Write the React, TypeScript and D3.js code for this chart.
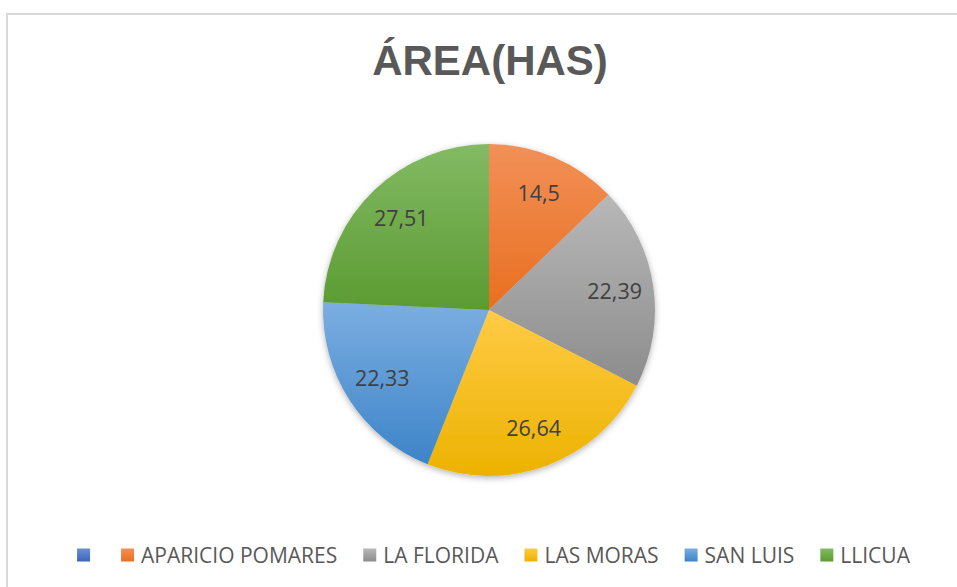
import React, { useEffect, useRef } from "react";
import * as d3 from "d3";

// categories and values (first category is blank)
const categories = ["", "APARICIO POMARES", "LA FLORIDA", "LAS MORAS", "SAN LUIS", "LLICUA"];
const values = [0, 14.5, 22.39, 26.64, 22.33, 27.51];
const valueLabels = ["", "14,5", "22,39", "26,64", "22,33", "27,51"];
const topColors = ["#6A8FD6", "#F29058", "#B8B8B8", "#FFCB45", "#7BAEE1", "#83BA64"];
const bottomColors = ["#3A66B8", "#E96F1F", "#8C8C8C", "#ECB200", "#3D84C8", "#5B9B32"];

const W = 957;
const H = 587;

function PieChart() {
  const ref = useRef<SVGSVGElement>(null);

  useEffect(() => {
    const svg = d3.select(ref.current);
    svg.selectAll("*").remove();

    const defs = svg.append("defs");
    categories.forEach((c, i) => {
      const g = defs.append("linearGradient")
        .attr("id", "grad" + i)
        .attr("x1", 0).attr("y1", 0).attr("x2", 0).attr("y2", 1);
      g.append("stop").attr("offset", "0%").attr("stop-color", topColors[i]);
      g.append("stop").attr("offset", "100%").attr("stop-color", bottomColors[i]);
    });
    defs.append("filter")
      .attr("id", "shadow")
      .attr("x", "-20%").attr("y", "-20%").attr("width", "140%").attr("height", "140%")
      .append("feDropShadow")
      .attr("dx", 0).attr("dy", 2).attr("stdDeviation", 3)
      .attr("flood-color", "#000").attr("flood-opacity", 0.3);

    // chart border
    svg.append("rect")
      .attr("x", 7).attr("y", 14)
      .attr("width", W).attr("height", H)
      .attr("fill", "white")
      .attr("stroke", "#D9D9D9").attr("stroke-width", 2);

    // title
    svg.append("text")
      .attr("x", 490).attr("y", 75)
      .attr("text-anchor", "middle")
      .style("font-family", "'Liberation Sans', Arial, sans-serif")
      .style("font-weight", "bold")
      .style("font-size", "42px")
      .style("fill", "#595959")
      .text("ÁREA(HAS)");

    const cx = 489, cy = 310, R = 166;
    const pie = d3.pie<number>().sort(null).value(d => d);
    const arcs = pie(values);
    const arc = d3.arc<d3.PieArcDatum<number>>().innerRadius(0).outerRadius(R);
    const labelArc = d3.arc<d3.PieArcDatum<number>>().innerRadius(127).outerRadius(127);

    const chart = svg.append("g").attr("transform", `translate(${cx},${cy})`);
    chart.append("g").attr("filter", "url(#shadow)")
      .selectAll("path")
      .data(arcs.filter(d => d.value > 0))
      .enter()
      .append("path")
      .attr("d", arc)
      .attr("fill", d => `url(#grad${d.index})`);

    chart.selectAll("text.lbl")
      .data(arcs.filter(d => d.value > 0))
      .enter()
      .append("text")
      .attr("class", "lbl")
      .attr("transform", d => `translate(${labelArc.centroid(d)})`)
      .attr("text-anchor", "middle")
      .attr("dy", "0.35em")
      .style("font-family", "'Open Sans', sans-serif")
      .style("font-size", "21.5px")
      .style("fill", "#404040")
      .text(d => valueLabels[d.index]);

    // legend
    const sq = 13, textGap = 7, itemGap = 26;
    const legend = svg.append("g");
    const items = legend.selectAll("g")
      .data(categories)
      .enter()
      .append("g");
    items.append("rect")
      .attr("width", sq).attr("height", sq)
      .attr("y", -sq / 2)
      .attr("fill", (d, i) => `url(#grad${i})`);
    items.append("text")
      .attr("x", sq + textGap)
      .attr("dy", "0.36em")
      .style("font-family", "'Open Sans', sans-serif")
      .style("font-size", "21px")
      .style("fill", "#595959")
      .text(d => d);

    let x = 0;
    items.each(function (d) {
      const t = d3.select(this).select("text").node() as SVGTextElement;
      const tw = d ? t.getComputedTextLength() : 0;
      d3.select(this).attr("transform", `translate(${x},0)`);
      x += sq + (d ? textGap + tw : 5) + itemGap;
    });
    const total = x - itemGap;
    legend.attr("transform", `translate(${493.5 - total / 2},555)`);
  }, []);

  return (
    <svg ref={ref} width={W} height={H}
      style={{ display: "block", position: "fixed", left: 0, top: 0 }}></svg>
  );
}

export default function App() {
  return <PieChart />;
}
